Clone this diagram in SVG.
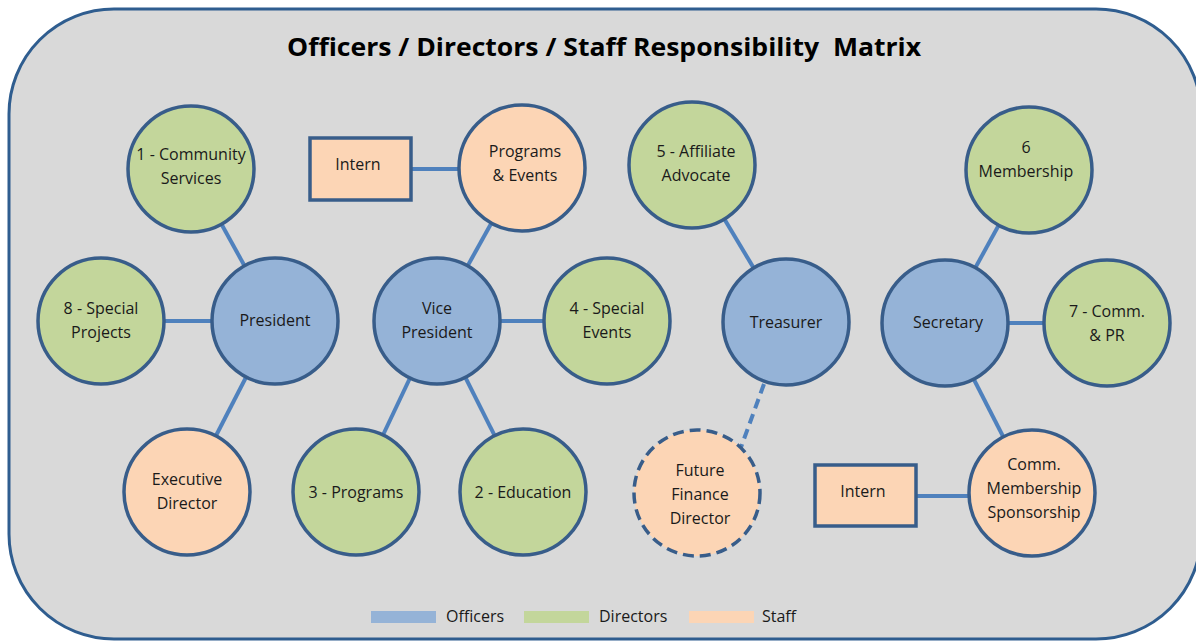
<svg xmlns="http://www.w3.org/2000/svg" width="1196" height="642" viewBox="0 0 1196 642">
  <style>
    .frame { fill: #d9d9d9; stroke: #2f5d8f; stroke-width: 3; }
    .node { stroke: #385d8a; stroke-width: 3.5; }
    .officer { fill: #95b3d7; }
    .director { fill: #c3d69b; }
    .staff { fill: #fcd5b5; }
    .dashed { stroke-dasharray: 11 6; }
    .link { stroke: #4f81bd; stroke-width: 4; fill: none; }
    .link.dashed { stroke-dasharray: 10 6; }
    text { font-family: "Open Sans", "Liberation Sans", sans-serif; font-size: 16px; fill: #1a1a1a; text-anchor: middle; }
    .title { font-size: 25px; font-weight: bold; fill: #000; }
    .legend text { text-anchor: start; }
  </style>

  <!-- rounded backdrop -->
  <rect class="frame" x="9" y="9" width="1192" height="630" rx="105" ry="105"/>

  <text class="title" x="604" y="56" textLength="634" lengthAdjust="spacingAndGlyphs" xml:space="preserve">Officers / Directors / Staff Responsibility  Matrix</text>

  <!-- connectors -->
  <g id="connectors">
    <line class="link" x1="191" y1="169" x2="275" y2="321"/>
    <line class="link" x1="101" y1="321" x2="275" y2="321"/>
    <line class="link" x1="187" y1="492" x2="275" y2="321"/>
    <line class="link" x1="437" y1="321" x2="522" y2="168"/>
    <line class="link" x1="437" y1="321" x2="607" y2="321"/>
    <line class="link" x1="437" y1="321" x2="356" y2="492"/>
    <line class="link" x1="437" y1="321" x2="523" y2="492"/>
    <line class="link" x1="411" y1="169" x2="522" y2="169"/>
    <line class="link" x1="692" y1="165" x2="786" y2="322"/>
    <line class="link dashed" x1="764" y1="384" x2="740" y2="450"/>
    <line class="link" x1="945" y1="323" x2="1029" y2="170"/>
    <line class="link" x1="945" y1="323" x2="1107" y2="323"/>
    <line class="link" x1="945" y1="323" x2="1032" y2="493"/>
    <line class="link" x1="917" y1="496" x2="1032" y2="496"/>
  </g>

  <!-- President cluster -->
  <g id="community-services">
    <circle class="node director" cx="191" cy="169" r="63"/>
    <text x="191" y="160">1 - Community</text>
    <text x="191" y="184">Services</text>
  </g>
  <g id="president">
    <circle class="node officer" cx="275" cy="321" r="63"/>
    <text x="275" y="326">President</text>
  </g>
  <g id="special-projects">
    <circle class="node director" cx="101" cy="321" r="63"/>
    <text x="101" y="314">8 - Special</text>
    <text x="101" y="338">Projects</text>
  </g>
  <g id="executive-director">
    <circle class="node staff" cx="187" cy="492" r="63"/>
    <text x="187" y="485">Executive</text>
    <text x="187" y="509">Director</text>
  </g>

  <!-- Vice President cluster -->
  <g id="vice-president">
    <circle class="node officer" cx="437" cy="321" r="63"/>
    <text x="437" y="314">Vice</text>
    <text x="437" y="338">President</text>
  </g>
  <g id="programs-events">
    <circle class="node staff" cx="522" cy="168" r="63"/>
    <text x="525" y="157">Programs</text>
    <text x="525" y="181">&amp; Events</text>
  </g>
  <g id="intern-vp">
    <rect class="node staff" x="310" y="138" width="101" height="62"/>
    <text x="358" y="170">Intern</text>
  </g>
  <g id="special-events">
    <circle class="node director" cx="607" cy="321" r="63"/>
    <text x="607" y="314">4 - Special</text>
    <text x="607" y="338">Events</text>
  </g>
  <g id="programs">
    <circle class="node director" cx="356" cy="492" r="63"/>
    <text x="356" y="498">3 - Programs</text>
  </g>
  <g id="education">
    <circle class="node director" cx="523" cy="492" r="63"/>
    <text x="523" y="498">2 - Education</text>
  </g>

  <!-- Treasurer cluster -->
  <g id="affiliate-advocate">
    <circle class="node director" cx="692" cy="165" r="63"/>
    <text x="696" y="157">5 - Affiliate</text>
    <text x="696" y="181">Advocate</text>
  </g>
  <g id="treasurer">
    <circle class="node officer" cx="786" cy="322" r="63"/>
    <text x="786" y="328">Treasurer</text>
  </g>
  <g id="future-finance-director">
    <circle class="node staff dashed" cx="697" cy="493" r="63"/>
    <text x="700" y="476">Future</text>
    <text x="700" y="500">Finance</text>
    <text x="700" y="524">Director</text>
  </g>

  <!-- Secretary cluster -->
  <g id="membership">
    <circle class="node director" cx="1029" cy="170" r="63"/>
    <text x="1026" y="153">6</text>
    <text x="1026" y="177">Membership</text>
  </g>
  <g id="secretary">
    <circle class="node officer" cx="945" cy="323" r="63"/>
    <text x="948" y="328">Secretary</text>
  </g>
  <g id="comm-pr">
    <circle class="node director" cx="1107" cy="323" r="63"/>
    <text x="1107" y="317">7 - Comm.</text>
    <text x="1107" y="341">&amp; PR</text>
  </g>
  <g id="comm-membership-sponsorship">
    <circle class="node staff" cx="1032" cy="493" r="63"/>
    <text x="1034" y="470">Comm.</text>
    <text x="1034" y="494">Membership</text>
    <text x="1034" y="518">Sponsorship</text>
  </g>
  <g id="intern-secretary">
    <rect class="node staff" x="815" y="465" width="101" height="61"/>
    <text x="863" y="497">Intern</text>
  </g>

  <!-- legend -->
  <g id="legend" class="legend">
    <rect x="371" y="611" width="65" height="12" fill="#95b3d7"/>
    <text x="446" y="622">Officers</text>
    <rect x="524" y="611" width="65" height="12" fill="#c3d69b"/>
    <text x="599" y="622">Directors</text>
    <rect x="689" y="611" width="65" height="12" fill="#fcd5b5"/>
    <text x="762" y="622">Staff</text>
  </g>
</svg>
